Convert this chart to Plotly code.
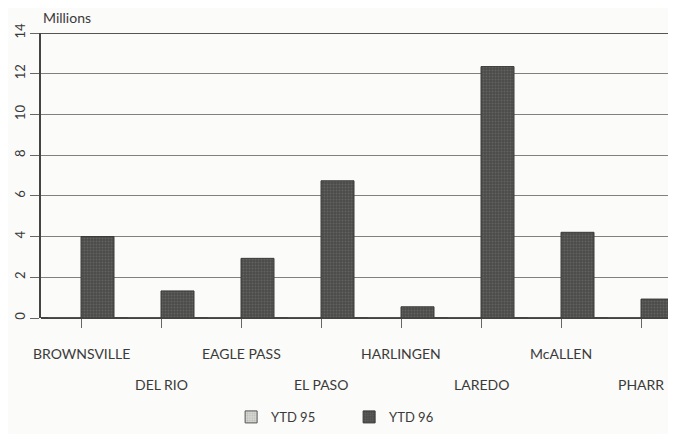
import plotly.graph_objects as go

categories = ["BROWNSVILLE", "DEL RIO", "EAGLE PASS", "EL PASO",
              "HARLINGEN", "LAREDO", "McALLEN", "PHARR"]
ytd95 = [0, 0, 0, 0, 0, 0, 0, 0]
ytd96 = [4.0, 1.33, 2.93, 6.74, 0.55, 12.35, 4.21, 0.93]
y_ticks = [0, 2, 4, 6, 8, 10, 12, 14]

FONT = "Lato, 'Open Sans', sans-serif"
INK = "#3a3a3a"
xs = list(range(len(categories)))

fig = go.Figure()
fig.add_trace(go.Bar(
    x=xs, y=ytd95, name="YTD 95",
    marker=dict(color="#d8d8d4", line=dict(color="#555", width=1),
                pattern=dict(shape=".", fgcolor="#999", size=3, solidity=0.4)),
))
fig.add_trace(go.Bar(
    x=xs, y=ytd96, name="YTD 96",
    marker=dict(color="#4b4b49", line=dict(color="#3a3a3a", width=1),
                pattern=dict(shape=".", fgcolor="#7a7a78", size=3, solidity=0.35)),
))

# staggered category labels
for i, c in enumerate(categories):
    fig.add_annotation(x=i, xref="x", y=0, yref="paper",
                       yshift=-35 if i % 2 == 0 else -66,
                       text=c, showarrow=False,
                       font=dict(family=FONT, size=14, color=INK),
                       xanchor="center", yanchor="middle")

fig.add_annotation(x=0, xref="paper", y=1, yref="paper", yshift=16,
                   text="Millions", showarrow=False,
                   font=dict(family=FONT, size=14, color=INK),
                   xanchor="left", yanchor="middle")

fig.update_layout(
    width=668, height=426,
    margin=dict(l=33, r=0, t=25, b=116, autoexpand=False),
    paper_bgcolor="#fbfbf9", plot_bgcolor="#fbfbf9",
    barmode="group", bargap=0.175, bargroupgap=0,
    showlegend=True,
    legend=dict(orientation="h", x=0.334, xref="container", xanchor="left",
                y=0.04, yref="container", yanchor="middle",
                entrywidth=73, entrywidthmode="pixels",
                font=dict(family=FONT, size=13, color=INK),
                bgcolor="rgba(0,0,0,0)", traceorder="normal"),
    font=dict(family=FONT, color=INK),
    xaxis=dict(range=[-0.5, 7.4375], tickvals=xs, showticklabels=False,
               ticks="outside", ticklen=9, tickcolor="#666", tickwidth=1,
               showgrid=False, zeroline=False, showline=False, fixedrange=True),
    yaxis=dict(range=[0, 14], tickvals=y_ticks, tickangle=-90,
               ticks="outside", ticklen=9, tickcolor="#666",
               tickfont=dict(family=FONT, size=13, color=INK),
               showgrid=True, gridcolor="#808080", gridwidth=1,
               showline=True, linecolor="#444", linewidth=2,
               zeroline=True, zerolinecolor="#444", zerolinewidth=2,
               mirror=False, fixedrange=True),
)
fig.add_shape(type="line", xref="paper", yref="y", x0=0, x1=1, y0=14, y1=14,
              line=dict(color="#555", width=2))

fig.write_html("out.html")
